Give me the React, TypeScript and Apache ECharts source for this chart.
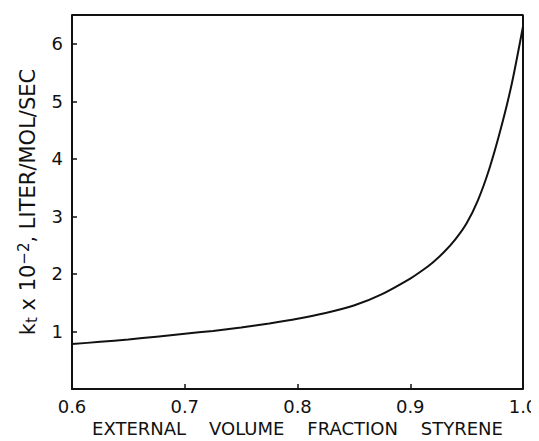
import React, { useEffect, useRef } from "react";
import * as echarts from "echarts";

const xValues = [0.6, 0.625, 0.65, 0.675, 0.7, 0.725, 0.75, 0.775, 0.8, 0.825, 0.85, 0.875, 0.9, 0.91, 0.92, 0.93, 0.94, 0.95, 0.96, 0.97, 0.98, 0.99, 1.0];
const kValues = [0.78, 0.82, 0.86, 0.91, 0.96, 1.01, 1.07, 1.14, 1.22, 1.32, 1.45, 1.65, 1.92, 2.05, 2.2, 2.38, 2.6, 2.88, 3.28, 3.82, 4.5, 5.3, 6.3];
const xTicks = [0.6, 0.7, 0.8, 0.9, 1.0];
const yTicks = [1, 2, 3, 4, 5, 6];

const FONT = "DejaVu Sans";

export default function App() {
  const ref = useRef<HTMLDivElement>(null);
  useEffect(() => {
    if (!ref.current) return;
    const chart = echarts.init(ref.current, null, { renderer: "svg" });
    const data = xValues.map((x, i) => [x, kValues[i]]);
    chart.setOption({
      animation: false,
      backgroundColor: "#ffffff",
      grid: { left: 72, right: 16, top: 15, bottom: 52, show: false, containLabel: false, outerBoundsMode: "none" },
      xAxis: {
        type: "value",
        min: 0.6,
        max: 1.0,
        interval: 0.1,
        name: "EXTERNAL    VOLUME    FRACTION    STYRENE",
        nameLocation: "middle",
        nameGap: 29,
        nameTextStyle: { fontFamily: FONT, fontSize: 18, lineHeight: 18, color: "#111" },
        axisLine: { show: true, onZero: false, lineStyle: { color: "#111", width: 2 } },
        axisTick: { show: true, inside: true, length: 5, lineStyle: { color: "#111", width: 1.5 } },
        axisLabel: {
          fontFamily: FONT,
          fontSize: 18,
          color: "#111",
          margin: 8,
          formatter: (v: number) => {
            const t = xTicks.find((k) => Math.abs(k - v) < 1e-6);
            return t === undefined ? "" : t.toFixed(1);
          },
        },
        splitLine: { show: false },
      },
      yAxis: {
        type: "value",
        min: 0,
        max: 6.5,
        interval: 1,
        name: "k{sub|t} x 10{sup|−2}, LITER/MOL/SEC",
        nameLocation: "middle",
        nameRotate: 90,
        nameGap: 33,
        nameTextStyle: {
          fontFamily: FONT,
          fontSize: 21,
          color: "#111",
          rich: {
            sub: { fontFamily: FONT, fontSize: 15, color: "#111", verticalAlign: "bottom", padding: [8, 0, 0, 0] },
            sup: { fontFamily: FONT, fontSize: 15, color: "#111", verticalAlign: "top", padding: [0, 0, 8, 0] },
          },
        },
        axisLine: { show: true, onZero: false, lineStyle: { color: "#111", width: 2 } },
        axisTick: { show: true, inside: true, length: 5, lineStyle: { color: "#111", width: 1.5 } },
        axisLabel: {
          fontFamily: FONT,
          fontSize: 18,
          color: "#111",
          margin: 9,
          formatter: (v: number) => (yTicks.includes(Math.round(v)) && Math.abs(v - Math.round(v)) < 1e-6 ? String(Math.round(v)) : ""),
        },
        splitLine: { show: false },
      },
      series: [
        {
          type: "line",
          data,
          showSymbol: false,
          smooth: 0.25,
          lineStyle: { color: "#111", width: 2 },
        },
        {
          type: "line",
          data: [[0.6, 6.5], [1.0, 6.5], [1.0, 0]],
          showSymbol: false,
          silent: true,
          lineStyle: { color: "#111", width: 2 },
        },
      ],
    });
    return () => chart.dispose();
  }, []);
  return <div ref={ref} style={{ width: 539, height: 441, marginLeft: -8, marginTop: -8 }} />;
}
